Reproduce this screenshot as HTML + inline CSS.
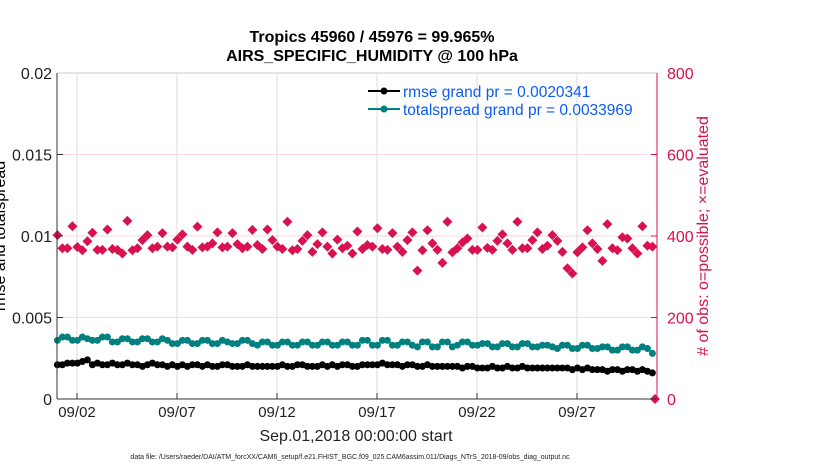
<!DOCTYPE html>
<html><head><meta charset="utf-8"><style>
body{margin:0;background:#fff;}
svg{font-family:"Liberation Sans",sans-serif;display:block}
</style></head><body>
<svg id="chart" width="830" height="470" viewBox="0 0 830 470">
<text x="372" y="42" font-size="16" font-weight="bold" text-anchor="middle">Tropics 45960 / 45976 = 99.965%</text>
<text x="372" y="61" font-size="16" font-weight="bold" text-anchor="middle">AIRS_SPECIFIC_HUMIDITY @ 100 hPa</text>
<g id="grid"></g>
<g id="marks"></g>
<g id="axes"></g>
<text transform="translate(5,236) rotate(-90)" font-size="16" text-anchor="middle">rmse and totalspread</text>
<text transform="translate(708,236) rotate(-90)" font-size="16" fill="#d9114f" text-anchor="middle"># of obs: o=possible; ×=evaluated</text>
<text x="356" y="441" font-size="16" text-anchor="middle" fill="#222">Sep.01,2018 00:00:00 start</text>
<text x="350" y="459" font-size="7" text-anchor="middle" fill="#222">data file: /Users/raeder/DAI/ATM_forcXX/CAM6_setup/f.e21.FHIST_BGC.f09_025.CAM6assim.011/Diags_NTrS_2018-09/obs_diag_output.nc</text>
<g>
<line x1="368" y1="91" x2="400" y2="91" stroke="#000" stroke-width="2"/><circle cx="384" cy="91" r="3.5" fill="#000"/>
<text x="403" y="97" font-size="15.5" fill="#0a5cf5">rmse grand pr = 0.0020341</text>
<line x1="368" y1="109" x2="400" y2="109" stroke="#00807f" stroke-width="2"/><circle cx="384" cy="109" r="3.5" fill="#00807f"/>
<text x="403" y="115" font-size="15.5" fill="#0a5cf5">totalspread grand pr = 0.0033969</text>
</g>
</svg>
<script>
const xTickLabels=["09/02","09/07","09/12","09/17","09/22","09/27"];
const xTickDays=[1,6,11,16,21,26];
const leftTicks=[0,0.005,0.01,0.015,0.02];
const leftTickLabels=["0","0.005","0.01","0.015","0.02"];
const rightTicks=[0,200,400,600,800];
const rmse=[21,21,22,22,22,23,24,21,22,21,21,22,21,21,22,21,21,20,21,22,21,21,20,21,20,21,20,21,21,20,21,20,20,21,21,20,20,20,21,20,20,20,20,20,20,21,20,20,21,21,20,20,20,21,20,21,20,21,21,20,20,21,21,21,21,22,21,21,21,20,21,21,20,20,21,20,20,20,20,20,20,19,20,20,19,19,19,20,19,19,20,19,19,20,19,19,19,19,19,19,19,19,19,18,19,18,19,18,18,18,17,18,18,17,18,18,17,18,17,16].map(v=>v/10000);
const spread=[36,38,38,36,36,38,37,36,36,38,38,35,35,37,37,35,35,37,37,35,35,37,36,34,34,36,36,34,34,36,36,34,34,36,35,34,34,36,36,34,33,35,35,33,33,35,35,33,33,35,35,33,33,35,35,33,33,35,35,33,33,36,36,33,33,36,36,33,33,35,35,33,32,35,35,32,32,35,35,32,33,35,35,33,33,34,34,32,32,34,34,32,32,34,34,32,32,33,33,32,31,33,33,31,31,33,33,31,31,32,32,30,30,32,32,30,30,32,31,28].map(v=>v/10000);
const nEvaluated=[402,370,370,424,373,365,387,408,366,366,416,368,366,357,437,365,370,390,402,370,374,407,374,372,391,404,374,366,423,372,374,382,409,372,374,407,380,370,374,415,378,368,416,390,374,368,435,365,368,388,402,361,380,409,374,357,391,370,376,357,411,368,378,374,419,368,366,407,374,361,390,409,315,365,414,382,366,334,435,360,370,384,394,366,366,421,371,366,388,404,382,366,435,370,370,390,409,368,376,402,388,361,321,308,360,372,414,382,368,339,429,370,365,397,394,370,357,424,376,374];
const X0=57,X1=657,Y0=399,Y1=73;
const xs=d=>X0+(d/30)*(X1-X0);
const yl=v=>Y0-(v/0.02)*(Y0-Y1);
const yr=v=>Y0-(v/800)*(Y0-Y1);
const NS="http://www.w3.org/2000/svg";
function mk(t,a,p){const e=document.createElementNS(NS,t);for(const k in a)e.setAttribute(k,a[k]);p.appendChild(e);return e;}
const grid=document.getElementById('grid'),marks=document.getElementById('marks'),axes=document.getElementById('axes');
xTickDays.forEach((d,i)=>{
 const l=mk('line',{x1:xs(d),x2:xs(d),y1:Y1,y2:Y0,stroke:'#ddd','stroke-width':1},grid);
 
 
 mk('line',{x1:xs(d),x2:xs(d),y1:Y0,y2:Y0-6,stroke:'#333'},axes);
 const t=mk('text',{x:xs(d),y:417,'font-size':15,'text-anchor':'middle',fill:'#222'},axes);
 t.textContent=xTickLabels[i];
 
 
});
rightTicks.forEach(v=>{
 const l=mk('line',{x1:X0,x2:X1,y1:yr(v),y2:yr(v),stroke:'#f6d6e0','stroke-width':1},grid);
 
 
 mk('line',{x1:X1-6,x2:X1,y1:yr(v),y2:yr(v),stroke:'#d9114f'},axes);
 const t=mk('text',{x:X1+10,y:yr(v)+6,'font-size':16,fill:'#d9114f'},axes);
 t.textContent=String(v);
 
 
});
leftTicks.forEach((v,i)=>{
 mk('line',{x1:X0,x2:X0+6,y1:yl(v),y2:yl(v),stroke:'#333'},axes);
 const t=mk('text',{x:X0-5,y:yl(v)+6,'font-size':16,'text-anchor':'end',fill:'#222'},axes);
 t.textContent=leftTickLabels[i];
 
 
});
mk('line',{x1:X0,x2:X1,y1:Y1,y2:Y1,stroke:'#ccc'},axes);
mk('line',{x1:X0,x2:X1,y1:Y0,y2:Y0,stroke:'#333'},axes);
mk('line',{x1:X0,x2:X0,y1:Y1,y2:Y0,stroke:'#333'},axes);
mk('line',{x1:X1,x2:X1,y1:Y1,y2:Y0,stroke:'#d9114f'},axes);
function series(arr,col,name){
 let d='';arr.forEach((v,i)=>{d+=(i?'L':'M')+xs(i*0.25+0.02)+','+yl(v);});
 const p=mk('path',{d:d,fill:'none',stroke:col,'stroke-width':1.5},marks);
 
 
 arr.forEach((v,i)=>{
  const c=mk('circle',{cx:xs(i*0.25+0.02),cy:yl(v),r:3.5,fill:col},marks);
  
  
 });
}
series(spread,'#00807f','totalspread');
series(rmse,'#000','rmse');
nEvaluated.forEach((v,i)=>{
 const x=xs(i*0.25+0.02),y=yr(v);
 const p=mk('path',{d:`M${x},${y-5}L${x+5},${y}L${x},${y+5}L${x-5},${y}Z`,fill:'#d9114f'},marks);
 
 
});
const z=mk('path',{d:`M${X1-2},${Y0-5}L${X1+3},${Y0}L${X1-2},${Y0+5}L${X1-7},${Y0}Z`,fill:'#d9114f'},marks);


</script>
</body></html>
